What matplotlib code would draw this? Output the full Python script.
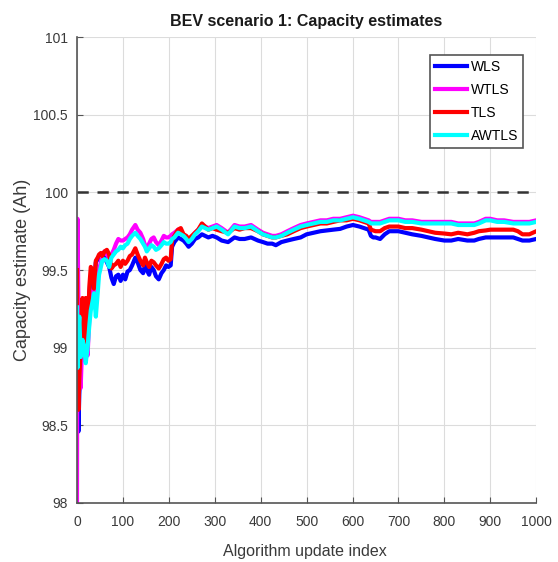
"""BEV scenario 1: capacity estimates of four total-capacity estimators."""
import numpy as np
import matplotlib
matplotlib.use("Agg")
import matplotlib.pyplot as plt

plt.rcParams["font.family"] = ["Liberation Sans", "DejaVu Sans"]

# algorithm update index at which the estimates were read
update_idx = [
    0, 1, 3, 5, 8, 12, 16, 19, 23, 27, 30, 34, 37, 41, 45, 48, 52, 55, 60, 65,
    70, 75, 80, 85, 90, 95, 100, 105, 110, 115, 120, 127, 132, 138, 144, 148,
    152, 157, 162, 167, 172, 178, 184, 189, 194, 199, 204, 207, 212, 220,
    226, 232, 238, 243, 250, 257, 264, 272, 279, 286, 295, 304, 315, 329, 343,
    354, 365, 379, 394, 405, 415, 425, 433, 445, 458, 472, 487, 500, 515, 530,
    544, 558, 573, 587, 601, 615, 625,
    635, 640, 645, 650, 660, 670, 680, 690, 700, 715, 730, 750, 765, 780, 800,
    815, 830, 850, 865, 875, 890, 900, 915, 930, 950, 960, 970, 985, 1000,
]

wls = [
    99.30, 98.90, 98.46, 98.70, 98.90, 99.05, 99.00, 99.28, 99.10, 99.35,
    99.45, 99.50, 99.40, 99.55, 99.57, 99.58, 99.60, 99.60, 99.58, 99.55,
    99.52, 99.45, 99.41, 99.46, 99.47, 99.43, 99.47, 99.44, 99.49, 99.50,
    99.53, 99.58, 99.55, 99.50, 99.48, 99.53, 99.50, 99.47, 99.52, 99.50,
    99.46, 99.44, 99.48, 99.50, 99.53, 99.52, 99.53, 99.65, 99.68, 99.71,
    99.70, 99.69, 99.67, 99.65, 99.67, 99.70, 99.71, 99.73, 99.72, 99.71,
    99.72, 99.71, 99.69, 99.68, 99.71, 99.70, 99.70, 99.71, 99.69, 99.68,
    99.67, 99.67, 99.66, 99.68, 99.69, 99.70, 99.71, 99.73, 99.74, 99.75,
    99.755, 99.76, 99.765, 99.78, 99.79, 99.78, 99.77,
    99.76, 99.72, 99.71, 99.71, 99.70, 99.73, 99.75, 99.75, 99.75, 99.74,
    99.73, 99.72, 99.71, 99.70, 99.69, 99.69, 99.70, 99.69, 99.69, 99.70,
    99.71, 99.71, 99.71, 99.71, 99.71, 99.70, 99.69, 99.69, 99.70,
]

wtls = [
    98.00, 99.83, 99.30, 99.20, 98.74, 99.10, 98.92, 99.05, 98.95, 99.20,
    99.30, 99.35, 99.40, 99.30, 99.45, 99.50, 99.55, 99.60, 99.62, 99.60,
    99.58, 99.60, 99.63, 99.67, 99.70, 99.69, 99.69, 99.70, 99.71, 99.73,
    99.76, 99.79, 99.76, 99.74, 99.70, 99.66, 99.64, 99.67, 99.70, 99.71,
    99.68, 99.66, 99.69, 99.72, 99.71, 99.71, 99.72, 99.73, 99.74, 99.76,
    99.74, 99.73, 99.71, 99.69, 99.71, 99.74, 99.76, 99.79, 99.78, 99.77,
    99.78, 99.79, 99.77, 99.74, 99.79, 99.78, 99.78, 99.79, 99.76, 99.74,
    99.73, 99.72, 99.72, 99.73, 99.75, 99.77, 99.79, 99.80, 99.81, 99.82,
    99.82, 99.83, 99.83, 99.84, 99.85, 99.84, 99.83,
    99.82, 99.81, 99.81, 99.81, 99.81, 99.82, 99.83, 99.83, 99.83, 99.82,
    99.82, 99.81, 99.81, 99.81, 99.81, 99.81, 99.80, 99.80, 99.80, 99.81,
    99.83, 99.83, 99.82, 99.82, 99.81, 99.81, 99.81, 99.81, 99.82,
]

tls = [
    99.50, 98.80, 98.60, 98.80, 99.00, 99.32, 99.02, 99.32, 99.10, 99.40,
    99.52, 99.50, 99.38, 99.56, 99.58, 99.60, 99.61, 99.59, 99.62, 99.63,
    99.60, 99.51, 99.53, 99.54, 99.56, 99.52, 99.56, 99.54, 99.56, 99.59,
    99.60, 99.64, 99.60, 99.56, 99.53, 99.58, 99.55, 99.52, 99.56, 99.55,
    99.53, 99.51, 99.54, 99.57, 99.58, 99.56, 99.57, 99.69, 99.72, 99.76,
    99.77, 99.73, 99.72, 99.70, 99.72, 99.74, 99.76, 99.80, 99.78, 99.76,
    99.77, 99.76, 99.75, 99.74, 99.77, 99.76, 99.77, 99.77, 99.75, 99.73,
    99.72, 99.71, 99.71, 99.72, 99.73, 99.75, 99.77, 99.78, 99.79, 99.80,
    99.80, 99.81, 99.82, 99.82, 99.83, 99.82, 99.81,
    99.80, 99.76, 99.755, 99.75, 99.75, 99.77, 99.78, 99.78, 99.78, 99.77,
    99.77, 99.76, 99.75, 99.74, 99.735, 99.73, 99.74, 99.73, 99.74, 99.75,
    99.755, 99.76, 99.76, 99.76, 99.76, 99.75, 99.73, 99.73, 99.75,
]

awtls = [
    99.26, 98.87, 99.10, 99.20, 98.94, 99.05, 99.00, 98.90, 99.00, 99.15,
    99.24, 99.30, 99.35, 99.20, 99.35, 99.47, 99.52, 99.56, 99.57, 99.56,
    99.52, 99.58, 99.60, 99.62, 99.63, 99.65, 99.64, 99.66, 99.67, 99.70,
    99.72, 99.74, 99.72, 99.70, 99.67, 99.65, 99.62, 99.64, 99.66, 99.65,
    99.63, 99.64, 99.66, 99.68, 99.67, 99.67, 99.68, 99.70, 99.71, 99.74,
    99.73, 99.72, 99.70, 99.68, 99.70, 99.73, 99.75, 99.78, 99.77, 99.76,
    99.77, 99.78, 99.76, 99.73, 99.78, 99.77, 99.77, 99.78, 99.75, 99.73,
    99.72, 99.71, 99.71, 99.72, 99.74, 99.76, 99.78, 99.79, 99.80, 99.81,
    99.81, 99.82, 99.82, 99.83, 99.84, 99.83, 99.82,
    99.81, 99.80, 99.80, 99.80, 99.80, 99.81, 99.82, 99.82, 99.82, 99.81,
    99.81, 99.80, 99.80, 99.80, 99.80, 99.80, 99.79, 99.79, 99.79, 99.80,
    99.82, 99.82, 99.81, 99.81, 99.80, 99.80, 99.80, 99.80, 99.81,
]

true_capacity = 100.0
series_names = ["WLS", "WTLS", "TLS", "AWTLS"]
series_colors = ["#0000ff", "#ff00ff", "#ff0000", "#00ffff"]
x_ticks = [0, 100, 200, 300, 400, 500, 600, 700, 800, 900, 1000]
y_ticks = [98, 98.5, 99, 99.5, 100, 100.5, 101]
y_labels = ["98", "98.5", "99", "99.5", "100", "100.5", "101"]

TEXT = "#3a3a3a"
AXIS = "#555555"

fig = plt.figure(figsize=(5.58, 5.62), dpi=100)
ax = fig.add_axes([0.138, 0.105, 0.823, 0.829])

for vals, name, col in zip([wls, wtls, tls, awtls], series_names, series_colors):
    ax.plot(update_idx, vals, color=col, linewidth=3.0, label=name,
            solid_joinstyle="round")

ax.axhline(true_capacity, color="#333333", linestyle=(0, (4.5, 3.5)),
           linewidth=1.8, zorder=1)

ax.set_xlim(0, 1000)
ax.set_ylim(98, 101)
ax.set_xticks(x_ticks)
ax.set_yticks(y_ticks)
ax.set_yticklabels(y_labels)
ax.grid(True, color="#dcdcdc", linewidth=0.8)
ax.set_axisbelow(True)
ax.tick_params(axis="both", direction="in", length=4, width=0.8,
               colors=AXIS, labelsize=10, labelcolor=TEXT)
ax.tick_params(axis="x", pad=8.5)
ax.tick_params(axis="y", pad=6.5)
for side in ["top", "right"]:
    ax.spines[side].set_visible(False)
for side in ["left", "bottom"]:
    ax.spines[side].set_color(AXIS)
    ax.spines[side].set_linewidth(1.2)

ax.set_title("BEV scenario 1: Capacity estimates", fontsize=11.5,
             fontweight="bold", color="#1a1a1a", pad=8)
ax.set_xlabel("Algorithm update index", fontsize=11.5, color=TEXT)
ax.xaxis.set_label_coords(0.497, -0.088)
ax.set_ylabel("Capacity estimate (Ah)", fontsize=13, color=TEXT)
ax.yaxis.set_label_coords(-0.10, 0.5)

leg = ax.legend(loc="upper right", bbox_to_anchor=(0.972, 0.961),
                borderaxespad=0.0, fontsize=10, handlelength=2.3,
                handletextpad=0.3, labelspacing=0.65, borderpad=0.35,
                fancybox=False, framealpha=1.0, edgecolor="#555555")
leg.get_frame().set_linewidth(1.2)
for line in leg.get_lines():
    line.set_linewidth(3.0)

fig.savefig("out.png", dpi=100)
